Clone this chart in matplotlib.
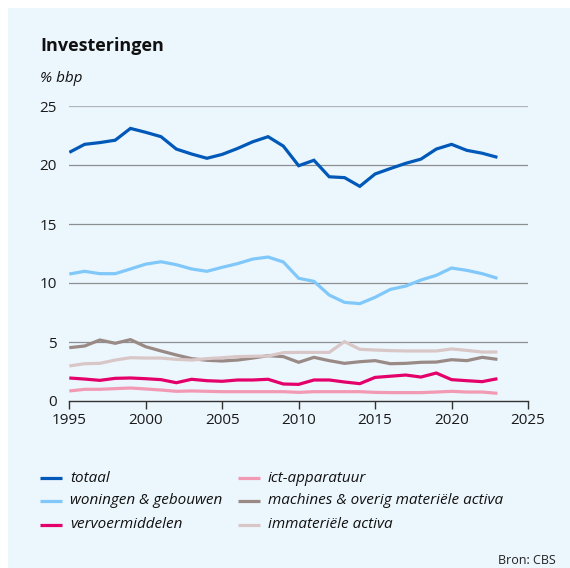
import matplotlib
matplotlib.use("Agg")
import matplotlib.pyplot as plt
from matplotlib.patches import Rectangle
from matplotlib.lines import Line2D

plt.rcParams["font.family"] = ["Open Sans", "DejaVu Sans"]

years = list(range(1995, 2024))

totaal = [21.07, 21.75, 21.9, 22.1, 23.1, 22.77, 22.4, 21.35, 20.93, 20.57,
          20.9, 21.4, 21.97, 22.4, 21.6, 19.94, 20.4, 19.0, 18.93, 18.19,
          19.24, 19.7, 20.14, 20.5, 21.35, 21.75, 21.24, 21.0, 20.65]
woningen = [10.76, 10.99, 10.79, 10.79, 11.19, 11.6, 11.8, 11.55, 11.19, 10.99,
            11.33, 11.64, 12.03, 12.2, 11.78, 10.4, 10.14, 8.98, 8.36, 8.25,
            8.79, 9.46, 9.74, 10.25, 10.65, 11.27, 11.07, 10.79, 10.4]
vervoer = [1.95, 1.86, 1.75, 1.92, 1.95, 1.89, 1.81, 1.55, 1.84, 1.72,
           1.67, 1.78, 1.78, 1.84, 1.44, 1.41, 1.78, 1.78, 1.61, 1.47,
           2.0, 2.1, 2.2, 2.03, 2.37, 1.81, 1.72, 1.64, 1.89]
ict = [0.85, 0.99, 0.99, 1.05, 1.1, 1.02, 0.93, 0.82, 0.85, 0.82,
       0.79, 0.79, 0.79, 0.79, 0.79, 0.73, 0.79, 0.79, 0.79, 0.79,
       0.73, 0.71, 0.71, 0.71, 0.76, 0.82, 0.76, 0.76, 0.65]
machines = [4.52, 4.66, 5.17, 4.89, 5.2, 4.6, 4.24, 3.9, 3.59, 3.45,
            3.39, 3.47, 3.64, 3.84, 3.76, 3.28, 3.7, 3.42, 3.19, 3.33,
            3.42, 3.16, 3.19, 3.28, 3.3, 3.5, 3.42, 3.7, 3.53]
immaterieel = [2.97, 3.16, 3.19, 3.47, 3.67, 3.64, 3.64, 3.53, 3.47, 3.59,
               3.67, 3.76, 3.79, 3.81, 4.1, 4.12, 4.12, 4.12, 5.03, 4.38,
               4.32, 4.27, 4.24, 4.24, 4.24, 4.41, 4.29, 4.15, 4.15]

series = [
    ("totaal", totaal, "#0058b8"),
    ("woningen & gebouwen", woningen, "#80c8fa"),
    ("vervoermiddelen", vervoer, "#e4006a"),
    ("ict-apparatuur", ict, "#f29ab4"),
    ("machines & overig materiële activa", machines, "#9a8a86"),
    ("immateriële activa", immaterieel, "#d9c7c8"),
]

bg = "#ecf6fd"
W, H = 570, 568
fig = plt.figure(figsize=(W / 100, H / 100), dpi=100)
fig.patch.set_facecolor("white")
fig.patches.append(Rectangle((8 / W, 0), 1, 1 - 8 / H, transform=fig.transFigure,
                             facecolor=bg, edgecolor="none", zorder=-10))

ax = fig.add_axes([69.3 / W, 1 - 401 / H, (528 - 69.3) / W, 295 / H])
ax.set_facecolor("none")
ax.set_zorder(2)

for label, vals, col in series:
    ax.plot(years, vals, color=col, lw=2.3, solid_capstyle="butt",
            solid_joinstyle="miter", zorder=3)

ax.set_xlim(1995, 2025)
ax.set_ylim(0, 25)
ax.set_xticks(range(1995, 2026, 5))
ax.set_yticks(range(0, 26, 5))
for v in range(5, 26, 5):
    ax.axhline(v, color="#b0b4b8" if v == 25 else "#8c8f92", lw=0.9, zorder=1)

for s in ["top", "right", "left"]:
    ax.spines[s].set_visible(False)
ax.spines["bottom"].set_color("#333333")
ax.spines["bottom"].set_linewidth(1.0)
ax.tick_params(axis="x", direction="out", length=6, width=1.0, color="#333333",
               labelsize=11, pad=3, labelcolor="#1a1a1a")
ax.tick_params(axis="y", length=0, labelsize=11, pad=9, labelcolor="#1a1a1a")

fig.text(40 / W, 1 - 46 / H, "Investeringen", fontsize=13, fontweight="bold",
         color="#111111", va="center", ha="left")
fig.text(40 / W, 1 - 79 / H, "% bbp", fontsize=11, style="italic",
         color="#111111", va="center", ha="left")

# legend, two columns, drawn by hand
col_x = [40, 238]
row_y = [478, 501, 525]
for i, (label, vals, col) in enumerate(series):
    x0 = col_x[i // 3]
    y0 = row_y[i % 3]
    fig.add_artist(Line2D([x0 / W, (x0 + 22) / W], [1 - y0 / H, 1 - y0 / H],
                          transform=fig.transFigure, color=col, lw=2.3,
                          solid_capstyle="butt"))
    fig.text((x0 + 30) / W, 1 - y0 / H, label, fontsize=11, style="italic",
             color="#111111", ha="left", va="center")

fig.text(556 / W, 1 - 561 / H, "Bron: CBS", fontsize=9, color="#222222",
         ha="right", va="center")

fig.savefig("out.png", dpi=100, facecolor=fig.get_facecolor())
